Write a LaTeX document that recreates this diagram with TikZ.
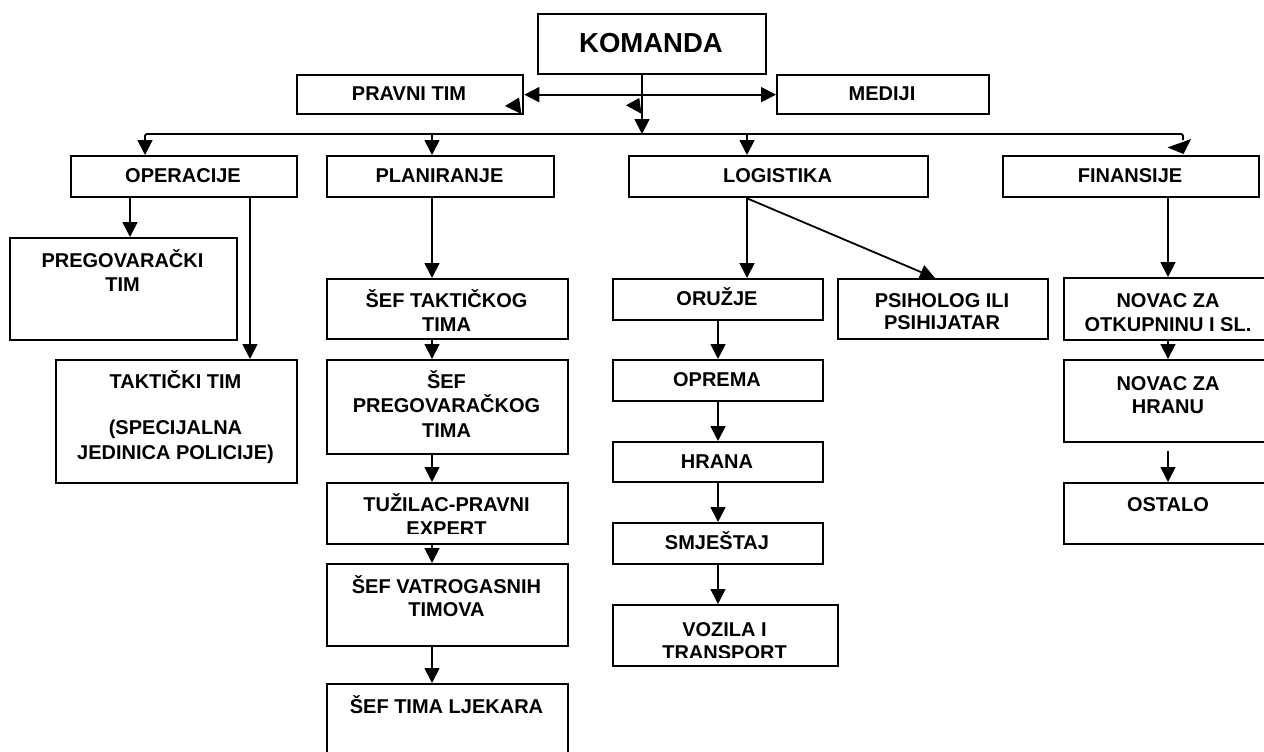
\documentclass[tikz,border=0pt]{standalone}
\usepackage{fontspec}
\setmainfont{Liberation Sans}
\usetikzlibrary{arrows.meta}
\newcommand\bx[5]{\node[box, minimum width={(#4-#2)*1pt}, minimum height={(#5-#3)*1pt}] (#1) at (#2,#3) {};}
\newcommand\tl[4]{\node[lbl] (#1) at (#2,#3) {#4};}
\begin{document}
\begin{tikzpicture}[x=1pt,y=-1pt,
  box/.style={draw, line width=2.3pt, inner sep=0pt, anchor=north west},
  lbl/.style={font=\fontsize{20}{23}\selectfont\bfseries, inner sep=0pt, anchor=base},
  big/.style={font=\fontsize{27.5}{32}\selectfont\bfseries, inner sep=0pt, anchor=base},
  conn/.style={line width=1.8pt},
  arr/.style={conn, -{Triangle[length=15pt,width=15pt]}},
  twoarr/.style={conn, {Triangle[length=15pt,width=15pt]}-{Triangle[length=15pt,width=15pt]}},
  head/.style={fill=black, draw=none}]
\fill[white] (0,0) rectangle (1264,752);
\clip (0,0) rectangle (1264,752);

% ---- boxes ----
\bx{kom}{537}{13}{765}{73}
\bx{prav}{296}{74}{522}{113}
\bx{med}{776}{74}{988}{113}
\bx{oper}{70}{155}{296}{196}
\bx{plan}{326}{155}{553}{196}
\bx{log}{628}{155}{927}{196}
\bx{fin}{1002}{155}{1258}{196}
\bx{preg}{9}{237}{236}{339}
\bx{takt}{55}{359}{296}{482}
\bx{sefT}{326}{278}{567}{338}
\bx{sefP}{326}{359}{567}{453}
\bx{tuz}{326}{482}{567}{543}
\bx{vat}{326}{563}{567}{645}
\bx{ljek}{326}{683}{567}{800}
\bx{oruz}{612}{278}{822}{319}
\bx{opr}{612}{359}{822}{400}
\bx{hr}{612}{441}{822}{481}
\bx{smj}{612}{522}{822}{563}
\bx{voz}{612}{604}{837}{665}
\bx{psih}{837}{278}{1047}{338}
\bx{novO}{1063}{277}{1273}{339}
\bx{novH}{1063}{359}{1273}{441}
\bx{ost}{1063}{482}{1273}{543}

% ---- texts ----
\node[big] (tkom) at (651,53) {KOMANDA};
\tl{tprav}{409}{100.6}{PRAVNI TIM}
\tl{tmed}{882}{100.6}{MEDIJI}
\tl{toper}{183}{182.6}{OPERACIJE}
\tl{tplan}{439.5}{182.6}{PLANIRANJE}
\tl{tlog}{777.5}{182.6}{LOGISTIKA}
\tl{tfin}{1130}{182.6}{FINANSIJE}
\tl{tpreg1}{122.5}{267.1}{PREGOVARAČKI}
\tl{tpreg2}{122.5}{291.1}{TIM}
\tl{ttakt1}{175.5}{388.1}{TAKTIČKI TIM}
\tl{ttakt2}{175.5}{434.1}{(SPECIJALNA}
\tl{ttakt3}{175.5}{459.1}{JEDINICA POLICIJE)}
\tl{tsefT1}{446.5}{307.8}{ŠEF TAKTIČKOG}
\tl{tsefT2}{446.5}{331.1}{TIMA}
\tl{tsefP1}{446.5}{388.8}{ŠEF}
\tl{tsefP2}{446.5}{412.8}{PREGOVARAČKOG}
\tl{tsefP3}{446.5}{437.1}{TIMA}
\begin{scope}
\clip (326,482) rectangle (567,533);
\tl{ttuz1}{446.5}{511.1}{TUŽILAC-PRAVNI}
\tl{ttuz2}{446.5}{535.6}{EXPERT}
\end{scope}
\tl{tvat1}{446.5}{593.1}{ŠEF VATROGASNIH}
\tl{tvat2}{446.5}{616.1}{TIMOVA}
\tl{tljek}{446.5}{713.1}{ŠEF TIMA LJEKARA}
\tl{toruz}{717}{305.6}{ORUŽJE}
\tl{topr}{717}{386.6}{OPREMA}
\tl{thr}{717}{468.1}{HRANA}
\tl{tsmj}{717}{549.6}{SMJEŠTAJ}
\begin{scope}
\clip (612,604) rectangle (837,657);
\tl{tvoz1}{724.5}{636.6}{VOZILA I}
\tl{tvoz2}{724.5}{659.9}{TRANSPORT}
\end{scope}
\tl{tpsih1}{942}{307.1}{PSIHOLOG ILI}
\tl{tpsih2}{942}{329.8}{PSIHIJATAR}
\begin{scope}
\clip (1063,277) rectangle (1273,330);
\tl{tnovO1}{1168}{307.8}{NOVAC ZA}
\tl{tnovO2}{1168}{331.1}{OTKUPNINU I SL.}
\end{scope}
\tl{tnovH1}{1168}{390.1}{NOVAC ZA}
\tl{tnovH2}{1168}{413.8}{HRANU}
\tl{tost}{1168}{511.1}{OSTALO}

% ---- connector coordinates ----
\coordinate (bL) at (145,134);
\coordinate (bR) at (1183,134);
\coordinate (bK) at (642,134);
\coordinate (bP) at (432,134);
\coordinate (bLg) at (747,134);
\coordinate (xO1) at (130,0);
\coordinate (xO2) at (250,0);
\coordinate (xP) at (432,0);
\coordinate (xL) at (747,0);
\coordinate (xL2) at (718,0);
\coordinate (xPs) at (935,0);
\coordinate (xF) at (1168,0);

% ---- top ----
\draw[twoarr] (prav.east) -- (med.west);
\draw[arr] (kom.south -| bK) -- (bK);
\fill[head] (505,106) -- (519,97.5) -- (521.5,114) -- cycle;
\fill[head] (626,105.3) -- (639.3,98) -- (641.5,113.8) -- cycle;

% ---- bus ----
\draw[arr, rounded corners=2pt] ([yshift=-6pt]bR) -- (bR) -- (bL) -- (bL |- oper.north);
\fill[head] (1167.5,147.5) -- (1191,139) -- (1183.5,154) -- cycle;
\draw[arr] (bP) -- (bP |- plan.north);
\draw[arr] (bLg) -- (bLg |- log.north);

% ---- operacije ----
\draw[arr] (oper.south -| xO1) -- (preg.north -| xO1);
\draw[arr] (oper.south -| xO2) -- (takt.north -| xO2);

% ---- planiranje ----
\draw[arr] (plan.south -| xP) -- (sefT.north -| xP);
\draw[arr] (sefT.south -| xP) -- (sefP.north -| xP);
\draw[arr] (sefP.south -| xP) -- (tuz.north -| xP);
\draw[arr] (tuz.south -| xP) -- (vat.north -| xP);
\draw[arr] (vat.south -| xP) -- (ljek.north -| xP);

% ---- logistika ----
\draw[arr] (log.south -| xL) -- (oruz.north -| xL);
\draw[arr] (log.south -| xL) -- (psih.north -| xPs);
\draw[arr] (oruz.south -| xL2) -- (opr.north -| xL2);
\draw[arr] (opr.south -| xL2) -- (hr.north -| xL2);
\draw[arr] (hr.south -| xL2) -- (smj.north -| xL2);
\draw[arr] (smj.south -| xL2) -- (voz.north -| xL2);

% ---- finansije ----
\draw[arr] (fin.south -| xF) -- (novO.north -| xF);
\draw[arr] (novO.south -| xF) -- (novH.north -| xF);
\draw[arr] ([yshift=-8pt]novH.south -| xF) -- (ost.north -| xF);
\end{tikzpicture}
\end{document}
